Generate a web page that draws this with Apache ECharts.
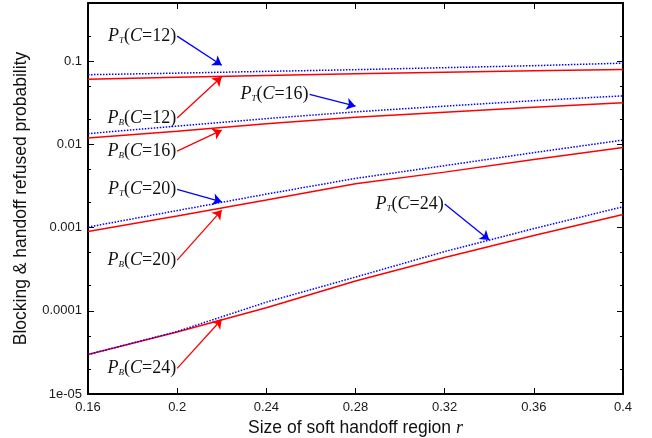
<!DOCTYPE html>
<html>
<head>
<meta charset="utf-8">
<script src="https://cdn.jsdelivr.net/npm/echarts@6/dist/echarts.min.js"></script>
<style>
html, body { margin: 0; padding: 0; background: #fff; }
#chart { width: 652px; height: 438px; }
</style>
</head>
<body>
<div id="chart"></div>
<script>
var rValues = [0.16, 0.2, 0.24, 0.28, 0.32, 0.36, 0.4];

var pt12 = [0.0687, 0.0718, 0.0754, 0.0790, 0.0835, 0.0883, 0.0946];
var pb12 = [0.0608, 0.0642, 0.0673, 0.0706, 0.0738, 0.0765, 0.0795];
var pt16 = [0.01346, 0.01657, 0.0204, 0.0246, 0.0288, 0.0335, 0.0383];
var pb16 = [0.01189, 0.01442, 0.01775, 0.02125, 0.0244, 0.0280, 0.0316];
var pt20 = [0.001014, 0.0016, 0.002525, 0.0039, 0.00555, 0.00796, 0.01125];
var pb20 = [0.000895, 0.001374, 0.00214, 0.00336, 0.00464, 0.00656, 0.0092];
var pt24 = [2.98e-5, 5.64e-5, 1.27e-4, 2.54e-4, 5.15e-4, 9.73e-4, 1.78e-3];
var pb24 = [2.98e-5, 5.55e-5, 1.088e-4, 2.28e-4, 4.36e-4, 8.01e-4, 1.44e-3];

var yMajor = [1e-5, 1e-4, 1e-3, 1e-2, 0.1];
var yMinor = [2e-5, 5e-5, 2e-4, 5e-4, 2e-3, 5e-3, 2e-2, 5e-2, 0.2];

// label start (end of text) and arrow tip, in data space
var notes = {
    pt12: { from: [0.2, 0.2], to: [0.22, 0.0895] },
    pb12: { from: [0.2, 0.0207], to: [0.22, 0.0648] },
    pt16: { from: [0.2594, 0.0398], to: [0.28, 0.0288] },
    pb16: { from: [0.2, 0.0083], to: [0.22, 0.01483] },
    pt20: { from: [0.2, 0.00288], to: [0.22, 0.00204] },
    pb20: { from: [0.2, 0.000407], to: [0.22, 0.00162] },
    pt24: { from: [0.32, 0.001915], to: [0.34, 0.000708] },
    pb24: { from: [0.2, 2.035e-5], to: [0.22, 7.9e-5] }
};

var BLUE = '#0000ff';
var RED = '#ff0000';
var serif = 'Liberation Serif';

var rich = {
    p: { fontFamily: serif, fontStyle: 'italic', fontSize: 18, color: '#111' },
    s: { fontFamily: serif, fontStyle: 'italic', fontSize: 9, color: '#111', verticalAlign: 'bottom' },
    n: { fontFamily: serif, fontSize: 18, color: '#111' },
    c: { fontFamily: serif, fontStyle: 'italic', fontSize: 18, color: '#111' }
};

function makeSeries(key, vals, sub, cap, color, dotted) {
    var note = notes[key];
    return {
        name: key,
        type: 'line',
        symbol: 'none',
        animation: false,
        data: rValues.map(function (r, i) { return [r, vals[i]]; }),
        lineStyle: { color: color, width: dotted ? 1.5 : 1.5, type: dotted ? [1.5, 1.5] : 'solid' },
        z: dotted ? 3 : 2,
        markLine: {
            silent: true,
            animation: false,
            symbol: ['none', 'arrow'],
            symbolSize: 9,
            label: { show: false },
            lineStyle: { color: color, width: 1.3, type: 'solid' },
            data: [[{ coord: note.from }, { coord: note.to }]]
        },
        markPoint: {
            silent: true,
            animation: false,
            symbol: 'circle',
            symbolSize: 0,
            label: {
                show: true,
                position: 'left',
                distance: 1,
                formatter: '{p|P}{s|' + sub + '}{n|(}{c|C}{n|=' + cap + ')}',
                rich: rich
            },
            data: [{ coord: note.from }]
        }
    };
}

var axisFont = { fontFamily: 'Liberation Sans', fontSize: 13, color: '#1a1a1a' };

function yAxisDef(pos, ticks, len, withLabel, withLine) {
    return {
        type: 'log',
        position: pos,
        min: 1e-5,
        max: 0.5,
        logBase: 10,
        splitLine: { show: false },
        axisLine: { show: withLine, lineStyle: { color: '#000', width: 2 } },
        axisTick: { show: true, inside: true, length: len, customValues: ticks, lineStyle: { color: '#000', width: 1 } },
        axisLabel: withLabel ? {
            show: true,
            customValues: yMajor,
            margin: 6,
            fontFamily: axisFont.fontFamily,
            fontSize: axisFont.fontSize,
            color: axisFont.color,
            formatter: function (v) { return v < 5e-5 ? '1e-05' : String(+Number(v).toPrecision(3)); }
        } : { show: false },
        name: withLabel ? 'Blocking & handoff refused probability' : '',
        nameLocation: 'middle',
        nameGap: 58,
        nameTextStyle: { fontFamily: 'Liberation Sans', fontSize: 17.5, color: '#111' }
    };
}

function xAxisDef(pos, withLabel) {
    return {
        type: 'value',
        position: pos,
        min: 0.16,
        max: 0.4,
        interval: 0.04,
        splitLine: { show: false },
        axisLine: { show: true, lineStyle: { color: '#000', width: 2 } },
        axisTick: { show: true, inside: true, length: 6, lineStyle: { color: '#000', width: 1 } },
        axisLabel: withLabel ? {
            show: true,
            margin: 7,
            fontFamily: axisFont.fontFamily,
            fontSize: axisFont.fontSize,
            color: axisFont.color
        } : { show: false },
        name: withLabel ? '{a|Size of soft handoff region }{r|r}' : '',
        nameLocation: 'middle',
        nameGap: 25,
        nameTextStyle: {
            rich: {
                a: { fontFamily: 'Liberation Sans', fontSize: 17.5, color: '#111' },
                r: { fontFamily: serif, fontStyle: 'italic', fontSize: 18, color: '#111' }
            }
        }
    };
}

var chart = echarts.init(document.getElementById('chart'), null, { renderer: 'canvas' });
chart.setOption({
    animation: false,
    backgroundColor: '#fff',
    grid: { left: 88, right: 29, top: 3, bottom: 44, containLabel: false, outerBoundsMode: 'none' },
    xAxis: [xAxisDef('bottom', true), xAxisDef('top', false)],
    yAxis: [
        yAxisDef('left', yMajor, 6, true, true),
        yAxisDef('left', yMinor, 3, false, false),
        yAxisDef('right', yMajor, 6, false, true),
        yAxisDef('right', yMinor, 3, false, false)
    ],
    series: [
        makeSeries('pt12', pt12, 'T', '12', BLUE, true),
        makeSeries('pb12', pb12, 'B', '12', RED, false),
        makeSeries('pt16', pt16, 'T', '16', BLUE, true),
        makeSeries('pb16', pb16, 'B', '16', RED, false),
        makeSeries('pt20', pt20, 'T', '20', BLUE, true),
        makeSeries('pb20', pb20, 'B', '20', RED, false),
        makeSeries('pt24', pt24, 'T', '24', BLUE, true),
        makeSeries('pb24', pb24, 'B', '24', RED, false)
    ]
});
</script>
</body>
</html>
